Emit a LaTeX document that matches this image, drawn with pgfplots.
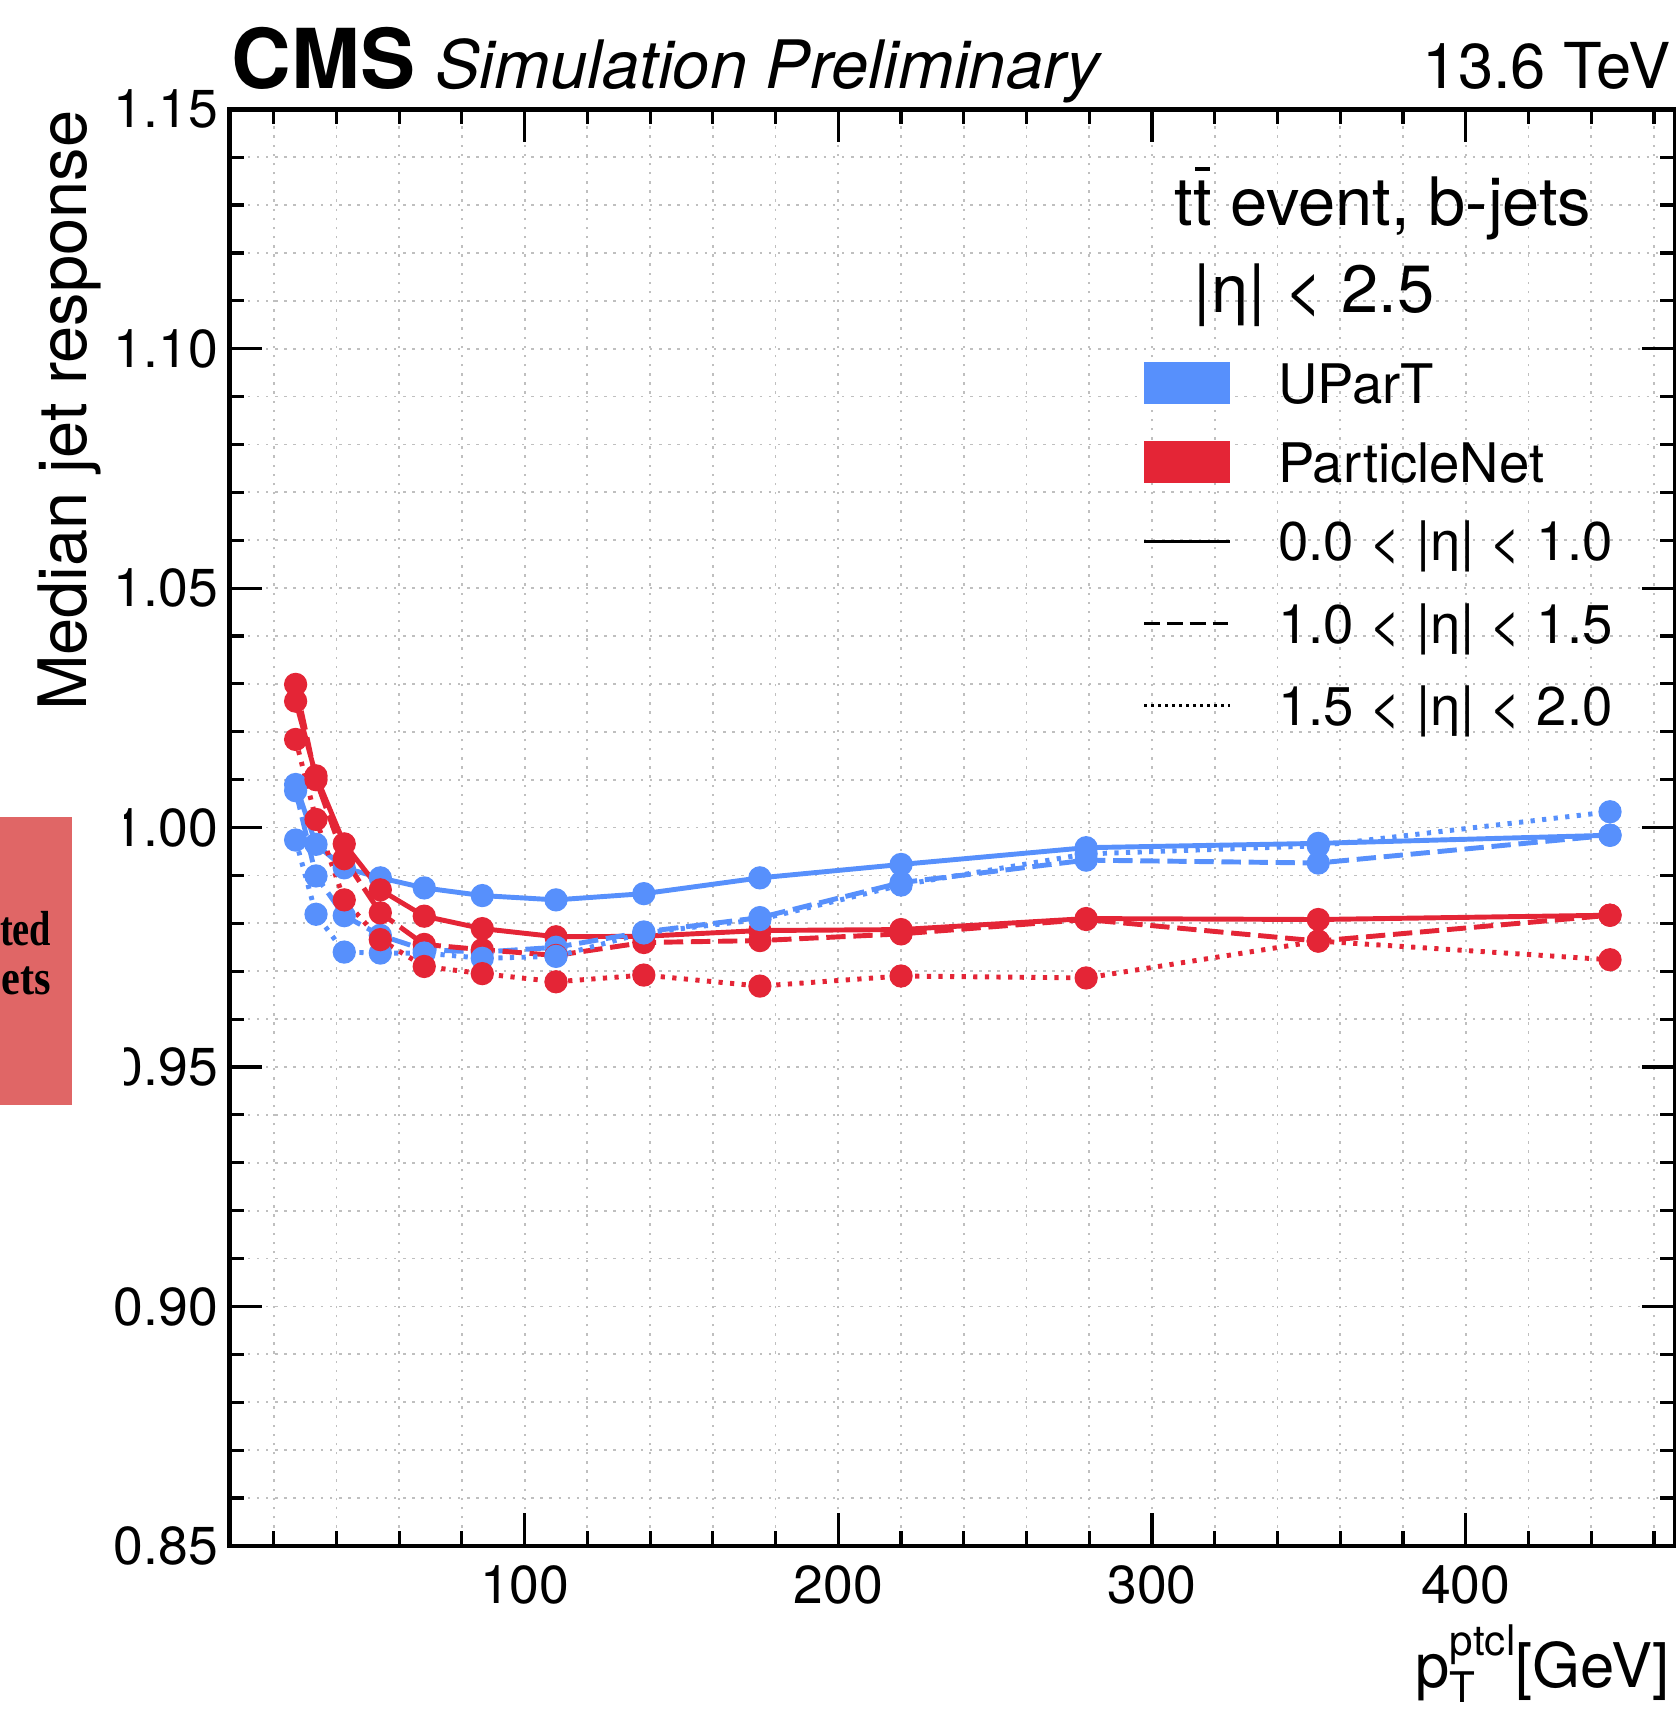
\documentclass[border=0pt]{standalone}
\usepackage{fontspec}
\setmainfont{TeX Gyre Heros}
\newfontfamily\boxfont{Liberation Serif}
\usepackage{pgfplots}
\pgfplotsset{compat=1.18}
\definecolor{cmsblue}{HTML}{5790FC}
\definecolor{cmsred}{HTML}{E42536}
\definecolor{slidered}{HTML}{E06666}
\newcommand{\fs}[1]{\fontsize{#1}{#1}\selectfont}

\pgfplotsset{
  ser/.style={line width=1.4pt, mark=*, mark size=2.6pt, mark options={solid}},
  dsh/.style={dash pattern=on 5.5pt off 2.2pt},
  dot/.style={dash pattern=on 1.2pt off 2.1pt},
}

\begin{document}
\begin{tikzpicture}
\begin{axis}[
    scale only axis,
    width=14.447cm, height=14.358cm,
    xmin=5.9, xmax=466.7, ymin=0.85, ymax=1.15,
    xtick={100,200,300,400}, xticklabels={100,200,300,400},
    ytick={0.85,0.90,0.95,1.00,1.05,1.10,1.15},
    yticklabels={0.85,0.90,0.95,1.00,1.05,1.10,1.15},
    minor xtick={20,40,60,80,120,140,160,180,220,240,260,280,320,340,360,380,420,440,460},
    minor ytick={0.86,0.87,0.88,0.89,0.91,0.92,0.93,0.94,0.96,0.97,0.98,0.99,
                 1.01,1.02,1.03,1.04,1.06,1.07,1.08,1.09,1.11,1.12,1.13,1.14},
    xtick pos=both, ytick pos=both, tick align=inside,
    major tick length=0.33cm, minor tick length=0.15cm,
    every tick/.append style={black, line width=0.9pt},
    grid=both,
    major grid style={black!25, line width=0.5pt, dash pattern=on 0.7pt off 1.9pt},
    minor grid style={black!25, line width=0.5pt, dash pattern=on 0.7pt off 1.9pt},
    axis line style={line width=1.3pt},
    tick label style={font=\fs{15.2}},
    xticklabel style={inner sep=0pt, yshift=-0.19cm},
    yticklabel style={inner sep=0pt, xshift=-0.11cm},
    /pgf/number format/assume math mode=true,
]
\coordinate (SW) at (rel axis cs:0,0);

% 0.0 < |eta| < 1.0
\addplot[cmsblue, ser] coordinates {
  (27,1.0090) (33.5,0.9965) (42.5,0.9916) (54,0.9895) (68,0.9874) (86.5,0.9858)
  (110,0.9849) (138,0.9862) (175,0.9895) (220,0.9923) (279,0.9958) (353,0.9967) (446,0.9984)
};
\addplot[cmsred, ser] coordinates {
  (27,1.0264) (33.5,1.0108) (42.5,0.9966) (54,0.9870) (68,0.9815) (86.5,0.9789)
  (110,0.9772) (138,0.9773) (175,0.9785) (220,0.9787) (279,0.9810) (353,0.9808) (446,0.9817)
};
% 1.0 < |eta| < 1.5
\addplot[cmsblue, ser, dsh] coordinates {
  (27,1.0077) (33.5,0.9899) (42.5,0.9816) (54,0.9775) (68,0.9745) (86.5,0.9740)
  (110,0.9750) (138,0.9782) (175,0.9812) (220,0.9885) (279,0.9932) (353,0.9926) (446,0.9984)
};
\addplot[cmsred, ser, dsh] coordinates {
  (27,1.0299) (33.5,1.0100) (42.5,0.9935) (54,0.9822) (68,0.9756) (86.5,0.9745)
  (110,0.9733) (138,0.9760) (175,0.9764) (220,0.9778) (279,0.9808) (353,0.9763) (446,0.9817)
};
% 1.5 < |eta| < 2.0
\addplot[cmsblue, ser, dot] coordinates {
  (27,0.9974) (33.5,0.9819) (42.5,0.9740) (54,0.9738) (68,0.9738) (86.5,0.9727)
  (110,0.9731) (138,0.9780) (175,0.9808) (220,0.9880) (279,0.9945) (353,0.9962) (446,1.0033)
};
\addplot[cmsred, ser, dot] coordinates {
  (27,1.0184) (33.5,1.0017) (42.5,0.9849) (54,0.9766) (68,0.9710) (86.5,0.9695)
  (110,0.9678) (138,0.9692) (175,0.9669) (220,0.9690) (279,0.9686) (353,0.9763) (446,0.9724)
};
\end{axis}

% everything else in reference pixel units (origin top left, y down)
\begin{scope}[shift={(SW)}, xshift=-2.293cm, yshift=15.45cm, x=0.01cm, y=-0.01cm,
    lg/.style={anchor=base west, inner sep=0pt, font=\fs{15.5}}]
  \node[anchor=base west, inner sep=0pt, font=\bfseries\fs{23.5}] at (231,89) {CMS};
  \node[anchor=base west, inner sep=0pt, font=\itshape\fs{19}] at (434.6,89) {Simulation Preliminary};
  \node[anchor=base east, inner sep=0pt, font=\fs{18}] at (1671,89) {13.6 TeV};
  \node[anchor=base east, inner sep=0pt, rotate=90, font=\fs{19}] at (86,110) {Median jet response};
  \node[anchor=base east, inner sep=0pt, font=\fs{17.5}] at (1670,1687)
    {p\rlap{\raisebox{-0.25em}{\fs{12}T}}\raisebox{0.52em}{\fs{12}ptcl}[GeV]};

  % slide overlay, cut at the left edge
  \fill[white] (0,800) rectangle (124,1105);
  \fill[slidered] (0,817) rectangle (72,1105);
  \node[anchor=base east, inner sep=0pt, font=\boxfont\bfseries\fs{14}] at (52,946) {\scalebox{0.78}[1]{ted}};
  \node[anchor=base east, inner sep=0pt, font=\boxfont\bfseries\fs{14}] at (52,995) {\scalebox{0.86}[1]{ets}};

  % legend
  \node[anchor=base west, inner sep=0pt, font=\fs{19}] at (1174,226)
    {t\rlap{\hspace{0.03em}\raisebox{0.82em}{\rule{0.22em}{0.07em}}}t event, b-jets};
  \node[anchor=base west, inner sep=0pt, font=\fs{19}] at (1193,313) {|η| < 2.5};
  \fill[cmsblue] (1144,362.5) rectangle (1229.5,404);
  \fill[cmsred] (1144,441) rectangle (1229.5,482.6);
  \node[lg] at (1277.5,404) {UParT};
  \node[lg] at (1277.5,482.6) {ParticleNet};
  \draw[line width=0.8pt] (1144,541.6) -- (1229.5,541.6);
  \draw[line width=0.8pt, dash pattern=on 4.5pt off 2pt] (1144,623.5) -- (1229.5,623.5);
  \draw[line width=0.8pt, dash pattern=on 0.8pt off 1.2pt] (1144,705.4) -- (1229.5,705.4);
  \node[lg] at (1277.5,561) {0.0 < |η| < 1.0};
  \node[lg] at (1277.5,644) {1.0 < |η| < 1.5};
  \node[lg] at (1277.5,726) {1.5 < |η| < 2.0};

  \pgfresetboundingbox
  \path (0,0) rectangle (1676,1712);
\end{scope}
\end{tikzpicture}
\end{document}
